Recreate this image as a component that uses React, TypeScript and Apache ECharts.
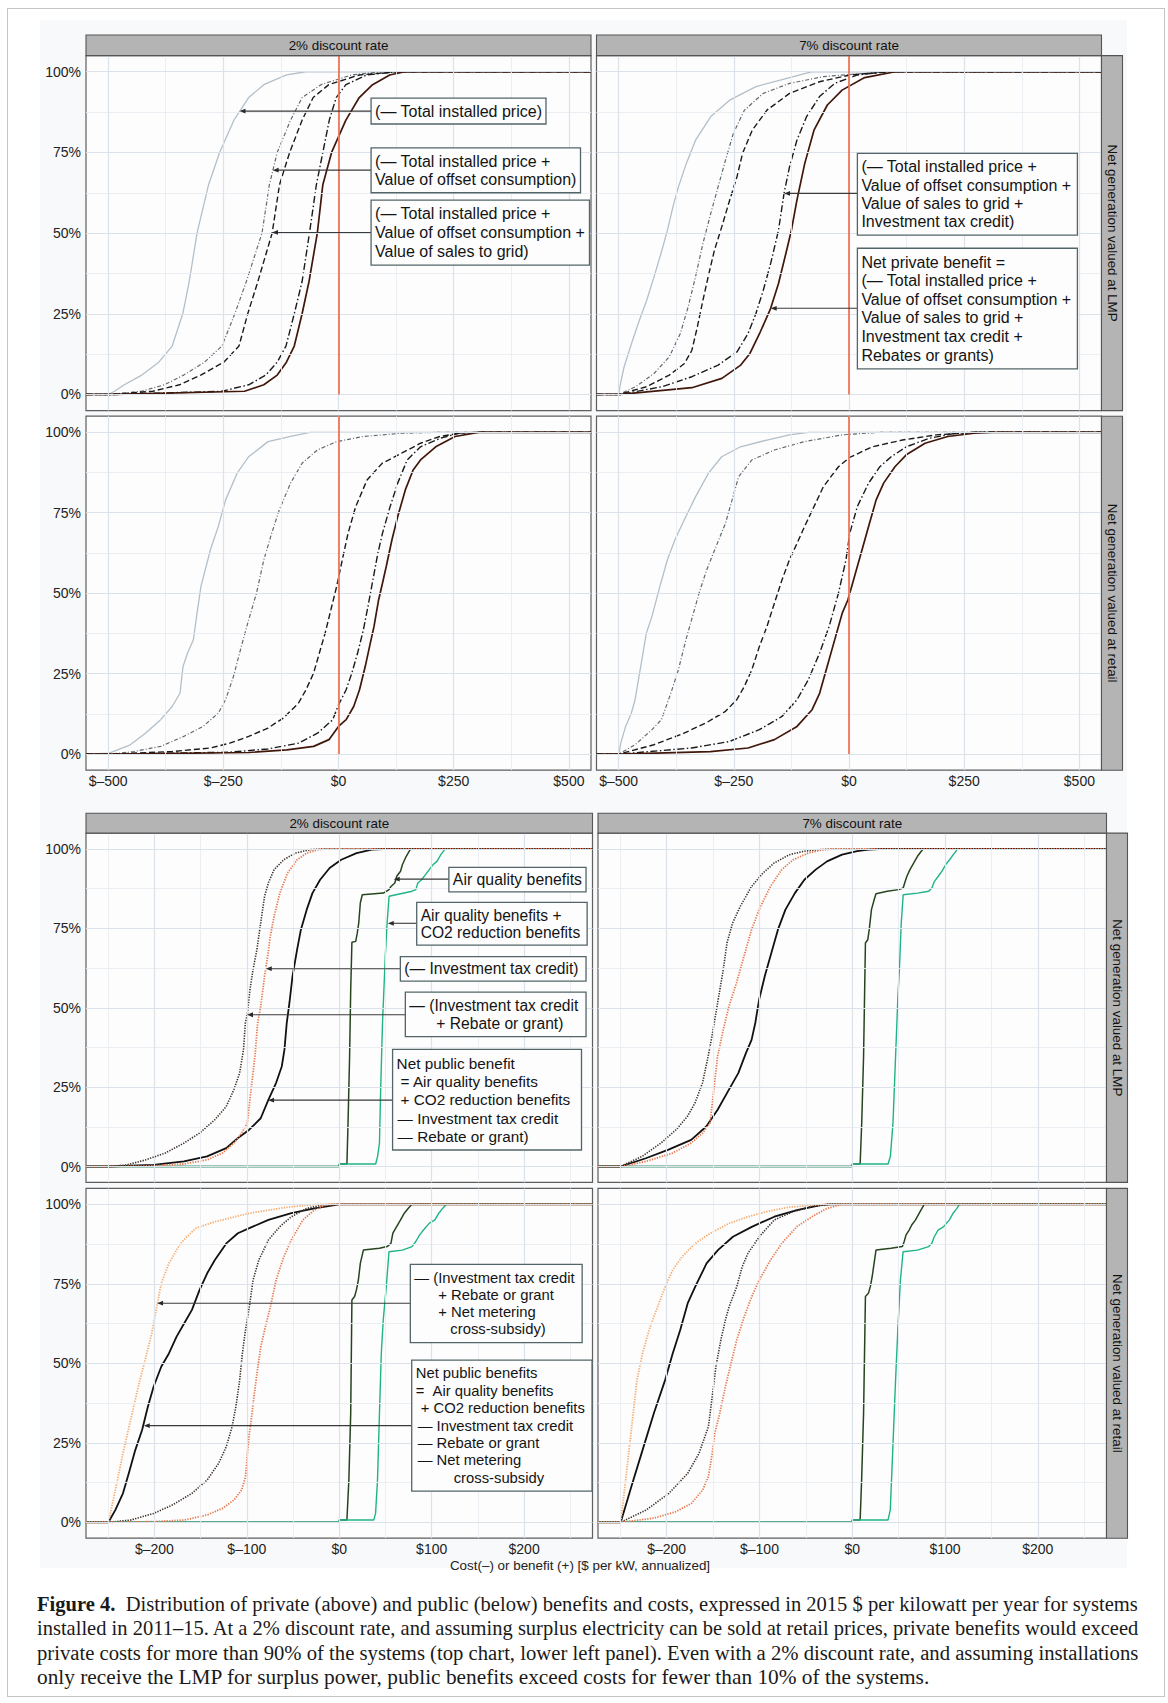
import React, { useEffect, useRef } from "react";
import * as echarts from "echarts";

const FONT = '"Liberation Sans", Arial, Helvetica, sans-serif';
const SERIF = '"Liberation Serif", "Times New Roman", serif';

// ---------- axes ----------
const PRIV_X = [-548, 548];
const PUB_X = [-274, 274];
const PCT_RANGE = [-5, 105];
const PRIV_TICKS = [-500, -250, 0, 250, 500];
const PRIV_MINOR = [-375, -125, 125, 375];
const PUB_TICKS = [-200, -100, 0, 100, 200];
const PUB_MINOR = [-250, -150, -50, 50, 150, 250];
const PCT_TICKS = [0, 25, 50, 75, 100];
const PCT_MINOR = [12.5, 37.5, 62.5, 87.5];

const COL_LABELS = ["2% discount rate", "7% discount rate"];
const ROW_LABELS = ["Net generation valued at LMP", "Net generation valued at retail"];
const X_TITLE = "Cost(–) or benefit (+) [$ per kW, annualized]";

// ---------- private benefits: [$ per kW, cumulative %] ----------
// 2% discount, LMP
const p2lmpPrice = [[-500,0],[-486,1],[-465,3],[-427,6],[-390,10],[-361,15],[-338,25],[-324,35],[-307,50],[-282,65],[-258,75],[-227,85],[-195,92],[-162,96],[-113,99],[-71,100]];
const p2lmpOffset = [[-498,0],[-427,1],[-378,3],[-336,6],[-291,10],[-253,15],[-225,25],[-200,35],[-166,50],[-150,65],[-133,75],[-104,85],[-79,92],[-38,96],[28,99],[95,100]];
const p2lmpGrid = [[-494,0],[-403,1],[-345,3],[-299,6],[-249,10],[-216,15],[-197,25],[-175,35],[-144,50],[-128,65],[-106,75],[-79,85],[-55,92],[-21,96],[45,99],[128,100]];
const p2lmpItc = [[-486,0],[-253,1],[-195,3],[-158,6],[-133,10],[-114,15],[-96,25],[-79,35],[-63,50],[-48,65],[-34,75],[-20,85],[-5,92],[16,96],[61,99],[128,100]];
const p2lmpNet = [[-486,0],[-204,1],[-162,3],[-133,6],[-113,10],[-96,15],[-79,25],[-64,35],[-46,50],[-34,65],[-15,75],[16,85],[45,92],[74,96],[111,99],[144,100]];
// 7% discount, LMP
const p7lmpPrice = [[-500,0],[-496,3.4],[-488,8.6],[-472,15.8],[-455,23],[-439,29.2],[-423,36.5],[-406,44.7],[-394,50.9],[-382,58.2],[-370,64.4],[-353,71.6],[-333,78.8],[-300,86.1],[-259,91.2],[-202,95.4],[-137,97.9],[-80,100]];
const p7lmpOffset = [[-500,0],[-463,2.4],[-423,6.5],[-390,11.7],[-366,18.9],[-349,27.2],[-333,36.5],[-317,46.8],[-300,56.1],[-284,64.4],[-268,72.6],[-251,80.9],[-227,88.1],[-186,93.3],[-129,96.4],[-55,98.5],[51,99.7],[83,100]];
const p7lmpGrid = [[-500,0],[-439,2.4],[-390,6],[-357,9.6],[-341,13.7],[-329,21],[-317,29.2],[-304,37.5],[-292,44.7],[-276,52],[-259,60.2],[-243,67.5],[-231,74.7],[-210,81.9],[-178,88.1],[-129,93.3],[-64,96.9],[2,99],[91,100]];
const p7lmpItc = [[-496,0],[-406,2.4],[-341,5.5],[-284,9.1],[-243,13.2],[-219,18.9],[-202,25.1],[-186,32.3],[-170,40.6],[-153,50.9],[-141,62.3],[-129,70.6],[-113,78.8],[-92,86.1],[-64,92.3],[-31,96.4],[18,99],[83,100]];
const p7lmpNet = [[-496,0],[-341,2.1],[-276,5],[-235,9.1],[-215,12.7],[-194,18.9],[-170,26.7],[-153,34.4],[-137,43.7],[-125,50.9],[-113,60.2],[-96,71.6],[-76,81.9],[-47,89.7],[-15,94.3],[34,98.2],[100,100]];
// 2% discount, retail
const p2retPrice = [[-497.5,0.3],[-452,2.9],[-419,6.5],[-386,10.7],[-361,14.8],[-344,18.9],[-337.5,27.2],[-327.5,31.4],[-315,35.5],[-307,43.8],[-298.5,52.1],[-278,63.5],[-261,70.7],[-245,79],[-220,87.3],[-195,92.4],[-153,97.1],[-104,98.7],[-62,100]];
const p2retOffset = [[-493,0],[-444,0.8],[-386,2.4],[-336,5.5],[-294,8.6],[-261,12.7],[-245,16.9],[-228,24.1],[-211,33.4],[-195,41.7],[-178,50],[-162,60.4],[-145,68.6],[-128.5,75.9],[-104,84.2],[-79,90.4],[-46,94.5],[-4,97.1],[54,98.7],[137,99.7],[220,100]];
const p2retGrid = [[-493,0],[-361,0.8],[-278,1.9],[-236,3.4],[-195,5.5],[-153,8.1],[-120,11.2],[-87,15.8],[-70.5,20],[-54,25.2],[-41.5,31.4],[-29,37.6],[-16.6,44.8],[-4,52.1],[8.3,60.4],[20.7,68.6],[37.3,76.9],[62,85.2],[95,90.4],[137,93.5],[178,96.6],[220,98.7],[261,99.7],[303,100]];
const p2retItc = [[-485,0],[-236,0.6],[-153,1.6],[-87,3.4],[-45.6,6.5],[-12.4,10.7],[0,15.3],[16.6,20],[29,25.2],[41.5,31.4],[54,38.6],[64,45.9],[74.6,54.1],[85.4,62.4],[95.4,68.6],[112,76.9],[128.5,84.2],[149,91.4],[178,95.5],[220,98.1],[261,99.7],[311,100]];
const p2retNet = [[-485,0],[-195,0.5],[-112,1.3],[-54,2.4],[-20.7,4.5],[0,8.6],[16.6,10.7],[33,14.8],[45.6,20],[58,27.2],[69,34.5],[77,39.6],[87,47.9],[95.4,53.1],[103.6,58.3],[116,66.6],[128.5,73.8],[145,82.1],[162,88.3],[178,91.4],[211,95.5],[253,98.7],[303,100]];
// 7% discount, retail
const p7retPrice = [[-499.5,0],[-495.4,3.4],[-484.8,8.6],[-472.5,12.7],[-464.3,16.9],[-452.1,27.2],[-439.8,37.6],[-427.6,42.8],[-410.4,52.1],[-394.1,60.4],[-377.8,66.6],[-357.4,72.8],[-332.9,80],[-304.9,87.3],[-276.3,92.4],[-235.4,95.5],[-178.2,97.6],[-129.2,99.2],[-88.3,100]];
const p7retOffset = [[-499.5,0],[-464.3,2.9],[-427.6,7.6],[-407.1,10.7],[-386.7,18.9],[-370.3,26.2],[-354,35.5],[-337.6,43.8],[-325.4,50],[-309,57.2],[-288.6,64.5],[-268.1,71.7],[-251.8,80],[-239.5,86.2],[-210.9,91.4],[-161.9,94.5],[-96.5,97.1],[-14.7,99.2],[67,100]];
const p7retGrid = [[-499.5,0],[-423.5,2.9],[-358.1,6.5],[-309,9.8],[-268.1,13.3],[-243.6,16.9],[-227.3,21],[-210.9,26.2],[-194.6,33.4],[-178.2,39.6],[-161.9,46.9],[-145.5,54.1],[-129.2,60.4],[-112.8,65.5],[-96.5,70.7],[-76,76.9],[-55.6,83.1],[-22.9,89.3],[1.6,92.2],[50.7,95.5],[116.1,97.6],[189.7,99.2],[271.4,100]];
const p7retItc = [[-497,0],[-341.7,1.9],[-260,3.9],[-194.6,7.6],[-145.5,11.7],[-112.8,16.9],[-88.3,23.1],[-63.8,31.4],[-43.3,39.6],[-22.9,50],[-6.5,60.4],[1.6,68.6],[18,76.9],[42.5,84.2],[67,89.3],[91.6,92.4],[124.3,95.5],[173.3,98.1],[230.5,99.7],[279.6,100]];
const p7retNet = [[-497,0],[-300.8,0.8],[-219.1,1.9],[-161.9,4.5],[-112.8,8.6],[-80.1,13.8],[-63.8,18.9],[-47.4,27.2],[-31.1,35.5],[-14.7,43.8],[-2.5,47.9],[9.8,54.1],[26.2,62.4],[42.5,70.7],[58.9,79],[75.2,84.2],[99.7,89.3],[124.3,93],[165.1,96.6],[214.2,98.7],[271.4,99.7],[312.3,100]];

// ---------- public benefits ----------
// 2% discount, LMP
const q2lmpAq = [[0,0],[0,0.8],[8.3,0.8],[9.5,13.7],[11.2,34.7],[12.4,55.7],[13.7,70.6],[17.8,70.9],[19.5,73.5],[21.1,76.7],[22.8,83],[24.9,85.6],[47.7,86.1],[53.9,87.2],[56,88.2],[60.1,89.3],[62.2,91.4],[66.3,93],[68.4,95.1],[72.5,97.7],[76.7,99.8],[78.8,100]];
const q2lmpAqCo2 = [[0,0],[0,0.8],[39.4,0.8],[41.5,3.2],[43.5,7.4],[44.8,24.2],[46.8,45.2],[49.8,66.2],[51.8,76.7],[53.9,85.1],[78.8,86.7],[82.9,87.2],[85,89.3],[89.1,90.3],[93.3,91.9],[97.4,93.5],[101.6,95.1],[105.7,96.1],[109.9,98.2],[114,99.8],[116.1,100]];
const q2lmpItc = [[-250,0],[-201,0.2],[-168,0.8],[-143,2.1],[-126.5,4.2],[-114,7.4],[-105.7,10.5],[-99.5,13.7],[-95.4,24.2],[-91.2,34.7],[-88.3,45.2],[-85,50.4],[-80.8,59.9],[-77.5,66.2],[-74.6,72.5],[-70.5,78.8],[-64.3,86.1],[-56,92.4],[-45.6,96.6],[-35.2,98.7],[-22.8,99.8],[-14.5,100]];
const q2lmpItcReb = [[-250,0],[-230,0.5],[-209.4,2.1],[-188.6,4.2],[-167.9,7.4],[-151.3,10.5],[-134.7,14.7],[-122.3,18.9],[-114,24.2],[-107.8,29.4],[-103.6,36.8],[-101.6,45.2],[-99.5,47.9],[-96.6,55.7],[-93.3,62],[-89.1,68.3],[-85,76.7],[-80.8,85.1],[-76.7,89.3],[-70.5,93.5],[-60.1,96.6],[-47.7,98.7],[-31.1,99.8],[-18.7,100]];
const q2lmpNet = [[-250,0],[-201,0.5],[-168,1.6],[-143,3.2],[-122.3,5.8],[-109.9,8.9],[-97.4,11.6],[-85,15.2],[-76.7,21],[-68.4,26.3],[-62.2,31.5],[-59.3,36.8],[-56.8,45.2],[-53.9,51.5],[-50.6,59.9],[-45.6,68.3],[-41.5,74.6],[-35.2,80.9],[-29,86.1],[-20.7,90.3],[-10.4,94],[2.1,96.6],[18.7,98.7],[35.2,99.8],[47.7,100]];
// 7% discount, LMP
const q7lmpAq = [[0,0],[0,0.8],[8.5,0.8],[10.2,13.7],[12.2,34.7],[14.2,70.4],[16.7,71.4],[18.3,74.6],[20.7,80.9],[23.6,84],[25.6,85.9],[37.8,86.7],[50,87.2],[54.9,87.7],[56.5,89.3],[58.9,91.4],[62.2,93.5],[66.3,95.6],[70.3,97.7],[74.4,99.3],[76.4,100]];
const q7lmpAqCo2 = [[0,0],[0,0.8],[38.6,0.8],[41.1,3.2],[43.9,13.7],[46.7,34.7],[49.2,53.6],[50.8,62],[52.8,76.7],[54.9,85.6],[70.3,86.1],[82.5,86.7],[85.8,87.7],[88.6,89.8],[92.7,91.4],[96.7,93],[100.8,95.1],[104.9,96.6],[108.9,98.2],[113,99.8],[115,100]];
const q7lmpItc = [[-250,0],[-222.4,1.6],[-193.9,4.2],[-173.6,7.4],[-161.4,10.5],[-153.3,13.7],[-151.2,18.9],[-148.4,26.3],[-145.1,34.7],[-139,43.1],[-132.9,50.4],[-124.8,57.8],[-116.7,66.2],[-108.5,74.6],[-100.4,80.9],[-88.2,88.2],[-76,93.5],[-63.8,96.6],[-47.6,98.7],[-31.3,99.8],[-19.1,100]];
const q7lmpItcReb = [[-250,0],[-226.4,3.2],[-206.1,7.4],[-189.8,11.6],[-177.6,15.8],[-169.5,20],[-161.4,26.3],[-155.3,34.7],[-151.2,41],[-145.1,51.5],[-139,62],[-135,70.4],[-128.9,76.7],[-120.7,81.9],[-108.5,88.2],[-96.3,92.4],[-84.1,95.6],[-67.9,98.2],[-51.6,99.3],[-35.4,99.8],[-19.1,100]];
const q7lmpNet = [[-250,0],[-222.4,2.6],[-198,5.3],[-173.6,8.4],[-157.3,12.6],[-145.1,17.9],[-132.9,24.2],[-122.8,29.4],[-114.6,35.7],[-108.5,39.9],[-104.5,45.2],[-100.4,52.5],[-94.3,59.9],[-88.2,66.2],[-80.1,74.6],[-72,80.9],[-61.8,86.1],[-51.6,90.3],[-39.4,93.5],[-27.2,96.1],[-11,98.2],[5.3,99.3],[17.5,99.8],[29.7,100]];
// 2% discount, retail
const q2retAq = [[0,0],[0,0.7],[8.3,0.7],[10.4,13.3],[12.4,34.3],[13.7,69.9],[16.6,71],[18.6,73.1],[20.7,76.2],[22.8,81.4],[26.1,85.6],[43.5,86.2],[51.8,86.7],[55.9,87.7],[58,90.9],[62.1,93],[66.3,95.1],[70.4,97.2],[74.5,98.7],[78.7,100]];
const q2retAqCo2 = [[0,0],[0,0.7],[37.3,0.7],[39.3,2.8],[41.4,13.3],[43.5,34.3],[45.5,53.1],[47.6,63.6],[50.9,74.1],[53.8,85.1],[68.3,85.6],[78.7,86.7],[82.8,88.3],[87,90.4],[91.1,91.9],[97.3,94],[103.5,95.1],[107.7,97.2],[111.8,98.7],[115.9,100]];
const q2retItc = [[-249.7,0],[-200.8,0.2],[-167.7,0.7],[-142.9,2.3],[-126.3,4.4],[-113.9,7],[-105.6,10.2],[-101.4,14.4],[-99.4,21.7],[-97.3,28],[-95.2,32.2],[-92.3,39.5],[-89,46.9],[-84.9,55.2],[-79.9,61.5],[-74.5,67.8],[-68.3,76.2],[-60,83.5],[-51.8,88.8],[-39.3,95.1],[-26.9,98.2],[-14.5,99.8],[-6.2,100]];
const q2retItcReb = [[-249.7,0],[-225.7,0.7],[-200.8,2.8],[-180.1,5.5],[-159.4,9.1],[-142.9,13.3],[-130.4,18.6],[-122.2,23.8],[-115.9,30.1],[-111.8,36.4],[-107.7,44.8],[-104.8,53.1],[-101.4,60.5],[-97.3,67.8],[-93.2,76.2],[-87,82.5],[-76.6,88.8],[-64.2,93],[-51.8,96.1],[-35.2,98.7],[-18.6,99.8],[-6.2,100]];
const q2retNm = [[-249.7,0],[-242.2,10.2],[-234,21.7],[-225.7,32.2],[-217.4,42.7],[-209.1,52.1],[-202.9,59.4],[-198.8,65.7],[-196.7,68.9],[-192.5,75.2],[-184.3,81.4],[-171.8,87.7],[-155.3,92.5],[-134.6,94.5],[-97.3,97.2],[-55.9,99.1],[-22.8,100]];
const q2retNet = [[-249.7,0],[-242.2,3.9],[-234,9.1],[-227.7,15.4],[-220.7,22.7],[-213.3,29],[-207,36.4],[-200.8,42.7],[-192.5,49],[-184.3,53.1],[-176,58.4],[-167.7,62.6],[-159.4,66.8],[-151.1,73.1],[-142.9,78.3],[-134.6,82.5],[-122.2,87.7],[-109.7,90.9],[-97.3,92.5],[-76.6,95.1],[-51.8,97.2],[-26.9,98.7],[0,100]];
// 7% discount, retail
const q7retAq = [[0,0],[0,0.7],[8.5,0.7],[10.1,13.3],[12.2,34.3],[14.2,71],[17.4,72],[19.5,74.1],[21.5,77.3],[25.6,85.6],[41.8,86.2],[54,86.7],[56,88.3],[58,90.4],[61.3,91.9],[64.1,93.5],[68.2,95.1],[72.2,97.2],[75.1,98.7],[77.5,100]];
const q7retAqCo2 = [[0,0],[0,0.7],[38.5,0.7],[41,3.9],[43.8,23.8],[46.7,44.8],[49.1,60.5],[51.9,76.2],[54.8,85.1],[70.2,85.6],[82.4,86.7],[85.6,87.7],[88.4,89.8],[92.5,91.9],[98.6,93],[104.7,95.1],[108.7,97.2],[112.8,98.7],[115.6,100]];
const q7retItc = [[-249.5,0],[-213.8,1.3],[-189.5,3.4],[-173.2,6],[-161.1,10.2],[-155,14.4],[-150.9,21.7],[-148.1,28],[-142.8,34.3],[-136.7,42.7],[-130.6,50],[-124.5,57.3],[-116.4,64.7],[-108.3,71],[-100.2,76.2],[-88,82.5],[-75.9,87.7],[-59.6,93],[-43.4,96.1],[-27.2,98.7],[-11,100]];
const q7retItcReb = [[-249.5,0],[-221.9,3.9],[-197.6,9.1],[-177.3,15.4],[-165.1,21.7],[-155,30.1],[-150.9,39.5],[-146.9,49],[-141.6,57.3],[-136.7,63.6],[-132.7,67.8],[-124.5,74.1],[-118.5,80.4],[-112.4,84.6],[-100.2,89.8],[-84,95.1],[-63.7,97.7],[-43.4,99.3],[-27.2,100]];
const q7retNm = [[-249.5,0],[-244.2,13.3],[-238.1,29],[-232,44.8],[-226,53.1],[-217.8,61.5],[-209.7,67.8],[-201.6,74.1],[-193.5,79.4],[-183.4,83.5],[-169.2,87.7],[-152.9,90.9],[-132.7,94],[-112.4,96.1],[-92.1,97.7],[-67.8,99.1],[-43.4,99.7],[-27.2,100]];
const q7retNet = [[-249.5,0],[-238.1,11.2],[-226,22.7],[-213.8,34.3],[-201.6,44.8],[-193.5,53.1],[-185.4,60.5],[-177.3,68.9],[-169.2,74.1],[-157,81.4],[-144.8,85.6],[-128.6,89.8],[-108.3,92.9],[-84,96.1],[-59.6,98.2],[-35.3,99.7],[-23.1,100]];

// ---------- annotation texts ----------
const ANNOTATIONS = [
  { grid: 0, fs: 16, x0: 70.7, x1: 450.3, top: 91.8, bottom: 83.8, arrowY: 87.8, tipX: -214.8, lines: ["(— Total installed price)"], indents: [0] },
  { grid: 0, fs: 16, x0: 70.7, x1: 525.2, top: 76.4, bottom: 62.5, arrowY: 69.5, tipX: -143, lines: ["(— Total installed price +", "Value of offset consumption)"], indents: [0, 0] },
  { grid: 0, fs: 16, x0: 70.7, x1: 544.7, top: 60.2, bottom: 40.1, arrowY: 50.2, tipX: -144.3, lines: ["(— Total installed price +", "Value of offset consumption +", "Value of sales to grid)"], indents: [0, 0, 0] },
  { grid: 1, fs: 16, x0: 18.2, x1: 495.7, top: 74.7, bottom: 49.4, arrowY: 62.3, tipX: -141, lines: ["(— Total installed price +", "Value of offset consumption +", "Value of sales to grid +", "Investment tax credit)"], indents: [0, 0, 0, 0] },
  { grid: 1, fs: 16, x0: 18.2, x1: 495.7, top: 45.3, bottom: 7.9, arrowY: 26.7, tipX: -170, lines: ["Net private benefit =", "(— Total installed price +", "Value of offset consumption +", "Value of sales to grid +", "Investment tax credit +", "Rebates or grants)"], indents: [0, 0, 0, 0, 0, 0] },
  { grid: 4, fs: 15.8, x0: 118.6, x1: 267, top: 94.2, bottom: 86.5, arrowY: 90.5, tipX: 58.9, lines: ["Air quality benefits"], indents: [0] },
  { grid: 4, fs: 15.6, x0: 83.8, x1: 268.2, top: 83.2, bottom: 69.7, arrowY: 76.6, tipX: 52.5, lines: ["Air quality benefits +", "CO2 reduction benefits"], indents: [0, 0] },
  { grid: 4, fs: 15.6, x0: 66.1, x1: 267, top: 66.1, bottom: 58.4, arrowY: 62.3, tipX: -79.5, lines: ["(— Investment tax credit)"], indents: [0] },
  { grid: 4, fs: 15.6, x0: 71.5, x1: 267, top: 54.9, bottom: 40.9, arrowY: 47.8, tipX: -99.8, lines: ["— (Investment tax credit", "+ Rebate or grant)"], indents: [0, 27] },
  { grid: 4, fs: 15.3, x0: 57.7, x1: 262.1, top: 36.9, bottom: 5.2, arrowY: 20.9, tipX: -77, lines: ["Net public benefit", "= Air quality benefits", "+ CO2 reduction benefits", "— Investment tax credit", "— Rebate or grant)"], indents: [0, 4, 4, 1, 1] },
  { grid: 6, fs: 14.8, x0: 76.9, x1: 262.8, top: 81.1, bottom: 56.5, arrowY: 68.9, tipX: -197.1, lines: ["— (Investment tax credit", "+ Rebate or grant", "+ Net metering", "cross-subsidy)"], indents: [0, 24, 24, 36] },
  { grid: 6, fs: 14.8, x0: 78.4, x1: 273.5, top: 51.0, bottom: 9.8, arrowY: 30.4, tipX: -211.5, lines: ["Net public benefits", "=\u00a0\u00a0Air quality benefits", "+ CO2 reduction benefits", "— Investment tax credit", "— Rebate or grant", "— Net metering", "cross-subsidy"], indents: [0, 0, 5, 2, 2, 2, 38] },
];

const CAPTION_LABEL = "Figure 4.";
const CAPTION_LINES = [
  "Distribution of private (above) and public (below) benefits and costs, expressed in 2015 $ per kilowatt per year for systems",
  "installed in 2011–15. At a 2% discount rate, and assuming surplus electricity can be sold at retail prices, private benefits would exceed",
  "private costs for more than 90% of the systems (top chart, lower left panel). Even with a 2% discount rate, and assuming installations",
  "only receive the LMP for surplus power, public benefits exceed costs for fewer than 10% of the systems.",
];

// ---------- layout / styles ----------
const GRID_BOXES = [
  { left: 86, top: 55.6, width: 505, height: 355 },
  { left: 596.5, top: 55.6, width: 505, height: 355 },
  { left: 86, top: 416.2, width: 505, height: 354 },
  { left: 596.5, top: 416.2, width: 505, height: 354 },
  { left: 86, top: 833.1, width: 506.5, height: 349.3 },
  { left: 598, top: 833.1, width: 508.5, height: 349.3 },
  { left: 86, top: 1188.4, width: 506.5, height: 349.8 },
  { left: 598, top: 1188.4, width: 508.5, height: 349.8 },
];

const STYLES: Record<string, any> = {
  price: { color: "#b3bfc8", width: 1.3, type: "solid" },
  offset: { color: "#62696e", width: 1.2, type: [4, 2, 1, 2] },
  grid: { color: "#1a1a1a", width: 1.4, type: [6, 3] },
  itc: { color: "#1a1a1a", width: 1.4, type: [7, 2.5, 1.5, 2.5] },
  net: { color: "#40170a", width: 1.7, type: "solid" },
  aq: { color: "#26451e", width: 1.5, type: "solid" },
  aqco2: { color: "#1fb488", width: 1.4, type: "solid" },
  pnet: { color: "#111111", width: 1.8, type: "solid" },
  itcreb: { color: "#3b2e25", width: 1.6, type: [1.3, 1.3] },
  pitc: { color: "#e8784c", width: 1.8, type: [1.3, 1.3] },
  nm: { color: "#f7ab6c", width: 1.8, type: [1.3, 1.3] },
};

const PANELS: { kind: "priv" | "pub"; curves: [string, number[][]][] }[] = [
  { kind: "priv", curves: [["price", p2lmpPrice], ["offset", p2lmpOffset], ["grid", p2lmpGrid], ["itc", p2lmpItc], ["net", p2lmpNet]] },
  { kind: "priv", curves: [["price", p7lmpPrice], ["offset", p7lmpOffset], ["grid", p7lmpGrid], ["itc", p7lmpItc], ["net", p7lmpNet]] },
  { kind: "priv", curves: [["price", p2retPrice], ["offset", p2retOffset], ["grid", p2retGrid], ["itc", p2retItc], ["net", p2retNet]] },
  { kind: "priv", curves: [["price", p7retPrice], ["offset", p7retOffset], ["grid", p7retGrid], ["itc", p7retItc], ["net", p7retNet]] },
  { kind: "pub", curves: [["aq", q2lmpAq], ["aqco2", q2lmpAqCo2], ["pnet", q2lmpNet], ["itcreb", q2lmpItcReb], ["pitc", q2lmpItc]] },
  { kind: "pub", curves: [["aq", q7lmpAq], ["aqco2", q7lmpAqCo2], ["pnet", q7lmpNet], ["itcreb", q7lmpItcReb], ["pitc", q7lmpItc]] },
  { kind: "pub", curves: [["aq", q2retAq], ["aqco2", q2retAqCo2], ["pnet", q2retNet], ["itcreb", q2retItcReb], ["pitc", q2retItc], ["nm", q2retNm]] },
  { kind: "pub", curves: [["aq", q7retAq], ["aqco2", q7retAqCo2], ["pnet", q7retNet], ["itcreb", q7retItcReb], ["pitc", q7retItc], ["nm", q7retNm]] },
];

const MAJOR_C = "#dce2ea";
const MINOR_C = "#e9edf2";
const VLINE_C = "#ee6745";

function dollar(v: number) {
  return v < 0 ? "$–" + Math.abs(v) : "$" + v;
}

function buildOption() {
  const xAxis: any[] = [];
  const yAxis: any[] = [];
  const series: any[] = [];
  PANELS.forEach((p, i) => {
    const priv = p.kind === "priv";
    const xr = priv ? PRIV_X : PUB_X;
    const ticks = priv ? PRIV_TICKS : PUB_TICKS;
    const minor = priv ? PRIV_MINOR : PUB_MINOR;
    const bottomRow = i % 4 >= 2;
    const leftCol = i % 2 === 0;
    xAxis.push({
      type: "value", gridIndex: i, min: xr[0], max: xr[1],
      axisLine: { show: false }, splitLine: { show: false },
      axisTick: { show: bottomRow, length: 3.5, customValues: ticks, lineStyle: { color: "#444", width: 1 } },
      axisLabel: { show: bottomRow, customValues: ticks, formatter: dollar, fontSize: 14, color: "#222", margin: 4, fontFamily: FONT },
    });
    yAxis.push({
      type: "value", gridIndex: i, min: PCT_RANGE[0], max: PCT_RANGE[1],
      axisLine: { show: false }, splitLine: { show: false },
      axisTick: { show: leftCol, length: 3.5, customValues: PCT_TICKS, lineStyle: { color: "#444", width: 1 } },
      axisLabel: { show: leftCol, customValues: PCT_TICKS, formatter: (v: number) => v + "%", fontSize: 14, color: "#222", margin: 5, fontFamily: FONT },
    });
    const lines: any[] = [];
    const vline = (v: number, style: any) => [{ coord: [v, PCT_RANGE[0]], lineStyle: style }, { coord: [v, PCT_RANGE[1]] }];
    const hline = (v: number, style: any) => [{ coord: [xr[0], v], lineStyle: style }, { coord: [xr[1], v] }];
    const minorStyle = { color: MINOR_C, width: 0.9, type: "solid" };
    const majorStyle = { color: MAJOR_C, width: 1.2, type: "solid" };
    minor.forEach((v) => lines.push(vline(v, minorStyle)));
    PCT_MINOR.forEach((v) => lines.push(hline(v, minorStyle)));
    ticks.forEach((v) => lines.push(vline(v, majorStyle)));
    PCT_TICKS.forEach((v) => lines.push(hline(v, majorStyle)));
    if (priv) {
      lines.push([{ coord: [0, 0], lineStyle: { color: VLINE_C, width: 1.6, type: "solid" } }, { coord: [0, PCT_RANGE[1]] }]);
    }
    series.push({
      type: "line", xAxisIndex: i, yAxisIndex: i, data: [[xr[0], PCT_RANGE[0]]], symbol: "none",
      lineStyle: { width: 0, opacity: 0 }, silent: true, z: 1,
      markLine: { silent: true, symbol: ["none", "none"], label: { show: false }, emphasis: { disabled: true }, data: lines },
    });
    p.curves.forEach(([key, pts]) => {
      const st = STYLES[key];
      series.push({
        type: "line", xAxisIndex: i, yAxisIndex: i, symbol: "none", showSymbol: false, silent: true, z: 2,
        data: [[xr[0], 0], ...pts, [xr[1], 100]],
        lineStyle: { color: st.color, width: st.width, type: st.type, cap: "butt" },
      });
    });
  });
  return {
    animation: false,
    grid: GRID_BOXES.map((g) => ({ ...g, show: true, backgroundColor: "#fdfdfe", borderColor: "#5e5e5e", borderWidth: 1.2 })),
    xAxis, yAxis, series,
  };
}

function measure(text: string, font: string) {
  const ctx = document.createElement("canvas").getContext("2d")!;
  ctx.font = font;
  return ctx.measureText(text).width;
}

function buildGraphics(chart: any) {
  const g: any[] = [];
  const STRIP_FILL = "#b4b4b4";
  const STRIP_STROKE = "#555";
  // top strips
  [0, 1, 4, 5].forEach((gi, k) => {
    const b = GRID_BOXES[gi];
    const h = gi < 4 ? 20.6 : 19.8;
    g.push({ type: "rect", z: 10, shape: { x: b.left, y: b.top - h, width: b.width, height: h }, style: { fill: STRIP_FILL, stroke: STRIP_STROKE, lineWidth: 1.1 } });
    g.push({ type: "text", z: 11, x: b.left + b.width / 2, y: b.top - h / 2, style: { text: COL_LABELS[k % 2], fontSize: 13.4, fontFamily: FONT, fill: "#111", align: "center", verticalAlign: "middle" } });
  });
  // right strips
  [1, 3, 5, 7].forEach((gi, k) => {
    const b = GRID_BOXES[gi];
    const w = 21;
    g.push({ type: "rect", z: 10, shape: { x: b.left + b.width, y: b.top, width: w, height: b.height }, style: { fill: STRIP_FILL, stroke: STRIP_STROKE, lineWidth: 1.1 } });
    g.push({ type: "text", z: 11, x: b.left + b.width + w / 2, y: b.top + b.height / 2, rotation: -Math.PI / 2, style: { text: ROW_LABELS[k % 2], fontSize: 13.4, fontFamily: FONT, fill: "#111", align: "center", verticalAlign: "middle" } });
  });
  // annotations
  ANNOTATIONS.forEach((a) => {
    const [px0, pyTop] = chart.convertToPixel({ gridIndex: a.grid }, [a.x0, a.top]);
    const [px1, pyBot] = chart.convertToPixel({ gridIndex: a.grid }, [a.x1, a.bottom]);
    const [tipX, ay] = chart.convertToPixel({ gridIndex: a.grid }, [a.tipX, a.arrowY]);
    g.push({ type: "line", z: 20, shape: { x1: px0, y1: ay, x2: tipX + 5, y2: ay }, style: { stroke: "#3a3a3a", lineWidth: 1.1 } });
    g.push({ type: "polygon", z: 20, shape: { points: [[tipX, ay], [tipX + 6, ay - 2.4], [tipX + 6, ay + 2.4]] }, style: { fill: "#2a2a2a" } });
    g.push({ type: "rect", z: 21, shape: { x: px0, y: pyTop, width: px1 - px0, height: pyBot - pyTop }, style: { fill: "#fdfdfd", stroke: "#536568", lineWidth: 1.3 } });
    const n = a.lines.length;
    const lh = (pyBot - pyTop - 9) / n;
    a.lines.forEach((t, i) => {
      g.push({ type: "text", z: 22, x: px0 + 4 + (a.indents[i] || 0), y: pyTop + 4.5 + lh * (i + 0.5), style: { text: t, fontSize: a.fs, fontFamily: FONT, fill: "#141414", align: "left", verticalAlign: "middle" } });
    });
  });
  // axis title (public chart)
  g.push({ type: "text", z: 11, x: 580, y: 1565, style: { text: X_TITLE, fontSize: 13.4, fontFamily: FONT, fill: "#222", align: "center", verticalAlign: "middle" } });
  // caption
  const FS = 20;
  const capY = [1604, 1628.5, 1653, 1677.5];
  const targets = [1102, 1102, 1102, 893];
  CAPTION_LINES.forEach((line, i) => {
    let natural: number;
    let text: string;
    const rich: any = { b: { fontWeight: "bold", fontFamily: SERIF, fontSize: FS, fill: "#1a1a1a" } };
    if (i === 0) {
      const gap = "\u00a0\u00a0";
      natural = measure(CAPTION_LABEL, `bold ${FS}px ${SERIF}`) + measure(gap + line, `${FS}px ${SERIF}`);
      text = `{b|${CAPTION_LABEL}}${gap}${line}`;
    } else {
      natural = measure(line, `${FS}px ${SERIF}`);
      text = line;
    }
    const sx = natural > 0 ? targets[i] / natural : 1;
    g.push({ type: "text", z: 11, x: 37, y: capY[i], scaleX: sx, style: { text, rich, fontSize: FS, fontFamily: SERIF, fill: "#1a1a1a", align: "left", verticalAlign: "middle" } });
  });
  return g;
}

export default function App() {
  const ref = useRef<HTMLDivElement>(null);
  useEffect(() => {
    const chart = echarts.init(ref.current!, undefined, { renderer: "svg" });
    chart.setOption(buildOption() as any);
    chart.setOption({ graphic: buildGraphics(chart) } as any);
    return () => chart.dispose();
  }, []);
  return (
    <div style={{ position: "absolute", left: 0, top: 0, width: 1168, height: 1703, background: "#ffffff", overflow: "hidden" }}>
      <div style={{ position: "absolute", left: 40, top: 20, width: 1087, height: 1548, background: "#f8f9fa" }} />
      <div style={{ position: "absolute", left: 7, top: 8, width: 1156, height: 1687, border: "1.5px solid #c4c4c4" }} />
      <div ref={ref} style={{ position: "absolute", left: 0, top: 0, width: 1168, height: 1703 }} />
    </div>
  );
}
